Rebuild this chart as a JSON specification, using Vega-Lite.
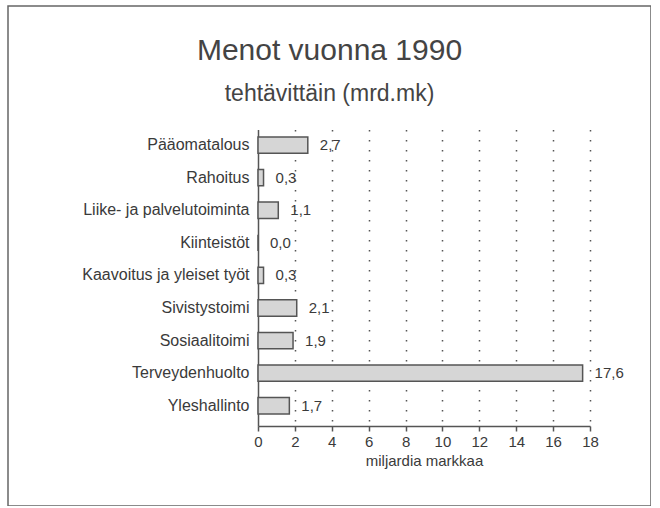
{
  "$schema": "https://vega.github.io/schema/vega-lite/v6.json",
  "autosize": "none",
  "padding": {"left": 8, "top": 6, "right": 0, "bottom": 0},
  "width": 643,
  "height": 500,
  "background": "white",
  "title": {
    "text": "Menot vuonna 1990",
    "subtitle": "tehtävittäin (mrd.mk)",
    "anchor": "middle",
    "frame": "group",
    "offset": -100,
    "font": "Liberation Sans",
    "fontSize": 30,
    "fontWeight": "normal",
    "color": "#444",
    "subtitleFont": "Liberation Sans",
    "subtitleFontSize": 23,
    "subtitleColor": "#444",
    "subtitlePadding": 17
  },
  "config": {
    "locale": {"number": {"decimal": ",", "thousands": " ", "grouping": [3], "currency": ["", " mk"]}},
    "view": {"stroke": "#666", "strokeWidth": 1.5},
    "font": "Liberation Sans"
  },
  "data": {
    "values": [
      {"tehtava": "Pääomatalous", "mrd": 2.7},
      {"tehtava": "Rahoitus", "mrd": 0.3},
      {"tehtava": "Liike- ja palvelutoiminta", "mrd": 1.1},
      {"tehtava": "Kiinteistöt", "mrd": 0.0},
      {"tehtava": "Kaavoitus ja yleiset työt", "mrd": 0.3},
      {"tehtava": "Sivistystoimi", "mrd": 2.1},
      {"tehtava": "Sosiaalitoimi", "mrd": 1.9},
      {"tehtava": "Terveydenhuolto", "mrd": 17.6},
      {"tehtava": "Yleshallinto", "mrd": 1.7}
    ]
  },
  "encoding": {
    "y": {
      "field": "tehtava",
      "type": "nominal",
      "sort": null,
      "scale": {"range": [123.5, 420], "paddingInner": 0.5, "paddingOuter": 0.3, "align": 0.38},
      "axis": {
        "title": null,
        "orient": "left",
        "offset": -250,
        "ticks": false,
        "labelPadding": 9,
        "labelFontSize": 16,
        "labelColor": "#3a3a3a",
        "domainColor": "#555",
        "domainWidth": 1.5,
        "grid": false
      }
    }
  },
  "layer": [
    {
      "mark": {"type": "bar", "fill": "#d6d6d6", "stroke": "#555", "strokeWidth": 1.5},
      "encoding": {
        "x": {
          "field": "mrd",
          "type": "quantitative",
          "scale": {"domain": [0, 18], "range": [250, 582], "nice": false},
          "axis": {
            "title": null,
            "orient": "top",
            "values": [2, 4, 6, 8, 10, 12, 14, 16, 18],
            "labels": false,
            "ticks": false,
            "domain": false,
            "grid": true,
            "gridColor": "#555",
            "gridWidth": 1.5,
            "gridDash": [1.5, 8.5]
          }
        }
      }
    },
    {
      "mark": {"type": "text", "align": "left", "baseline": "middle", "dx": 12, "fontSize": 15, "color": "#3a3a3a"},
      "encoding": {
        "x": {
          "field": "mrd",
          "type": "quantitative",
          "axis": {
            "title": "miljardia markkaa",
            "orient": "bottom",
            "offset": -80,
            "values": [0, 2, 4, 6, 8, 10, 12, 14, 16, 18],
            "tickSize": 5,
            "tickColor": "#555",
            "tickWidth": 1.5,
            "labelPadding": 3,
            "labelFontSize": 15,
            "labelColor": "#3a3a3a",
            "labelFlush": false,
            "titleFontSize": 15,
            "titleFontWeight": "normal",
            "titleColor": "#3a3a3a",
            "titlePadding": 4,
            "domainColor": "#555",
            "domainWidth": 1.5,
            "grid": false
          }
        },
        "text": {"field": "mrd", "type": "quantitative", "format": ".1f"}
      }
    }
  ],
  "resolve": {"axis": {"x": "independent"}}
}
